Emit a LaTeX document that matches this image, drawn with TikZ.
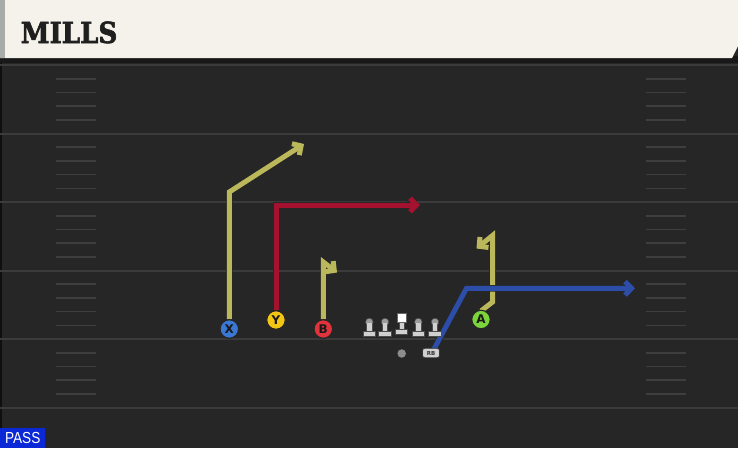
\documentclass[tikz,border=0pt]{standalone}
\usepackage{fontspec}
\setmainfont{DejaVu Sans}
\newfontfamily\titlefont[FakeBold=2.2]{DejaVu Serif Bold}
\newfontfamily\passfont{Liberation Sans}
\usetikzlibrary{arrows.meta}
\definecolor{field}{HTML}{262626}
\definecolor{darkbar}{HTML}{181818}
\definecolor{cream}{HTML}{F5F2EB}
\definecolor{stripe}{HTML}{A9ABA8}
\definecolor{yardc}{HTML}{3B3B3B}
\definecolor{hashc}{HTML}{3E3E3E}
\definecolor{olive}{HTML}{BAB85A}
\definecolor{crimson}{HTML}{A51230}
\definecolor{rblue}{HTML}{2C4EA8}
\definecolor{xblue}{HTML}{3A78D6}
\definecolor{yyellow}{HTML}{F3C614}
\definecolor{bred}{HTML}{E0333B}
\definecolor{agreen}{HTML}{7CD33A}
\definecolor{lmgrey}{HTML}{D0D0D0}
\definecolor{passblue}{HTML}{0A28D6}
\begin{document}
\begin{tikzpicture}[x=1pt,y=-1pt,
  yard/.style={draw=yardc,line width=2pt},
  hash/.style={draw=hashc,line width=1.6pt},
  route/.style={line width=5pt,
    preaction={draw=black!85,line width=6.6pt},
    -{Straight Barb[length=6.5pt,width=13.5pt]}},
  player/.style={circle,minimum size=18.5pt,inner sep=0pt,draw=black!85,line width=1.1pt,
    text=black!90,font=\bfseries\fontsize{12}{12}\selectfont},
  lineman/.pic={
    \fill[lmgrey,draw=black!70,line width=0.5pt] (-6.4,-2.5) rectangle (6.4,2.3);
    \fill[lmgrey,draw=black!70,line width=0.5pt] (-2.7,-11.5) rectangle (2.7,-2.5);
    \fill[lmgrey!75!black,draw=black!70,line width=0.5pt] (0,-12) circle (3.8);
    \fill[lmgrey] (-2.2,-11.5) rectangle (2.2,-2.7);},
  centerman/.pic={
    \fill[lmgrey,draw=black!70,line width=0.5pt] (-6,-2.3) rectangle (6,2.3);
    \fill[lmgrey,draw=black!70,line width=0.5pt] (-2.7,-10) rectangle (2.7,-2.3);
    \fill[white,draw=black!60,line width=0.5pt] (-4.6,-18) rectangle (4.6,-9.6);}
]
\useasboundingbox (0,0) rectangle (738,448);
% field
\fill[field] (0,0) rectangle (738,448);
\fill[darkbar] (0,56) rectangle (738,63);
\draw[draw=black!60!field,line width=1.5pt] (1,63) -- (1,448);
\foreach \y in {65,133.5,202,270.5,339,408} \draw[yard] (0,\y) -- (738,\y);
\foreach \k in {0,...,4}
  \foreach \o in {13.7,27.4,41.1,54.8} {
    \draw[hash] (56,65+68.5*\k+\o) -- (96,65+68.5*\k+\o);
    \draw[hash] (646,65+68.5*\k+\o) -- (686,65+68.5*\k+\o);
  }
% header
\fill[cream] (0,0) -- (738,0) -- (738,46) -- (732,58) -- (0,58) -- cycle;
\fill[stripe] (0,0) rectangle (5,58);
\node[anchor=base west,inner sep=0pt,text=black!88] (title) at (20.5,43)
  {\titlefont\fontsize{29}{29}\selectfont\scalebox{0.9}[1]{MILLS}};
% players
\node[player,fill=xblue] (X) at (229.3,329) {X};
\node[player,fill=yyellow] (Y) at (276,320) {Y};
\node[player,fill=bred] (B) at (323.3,329) {B};
\node[player,fill=agreen] (A) at (481,319.5) {A};
\node[circle,fill=black!45,minimum size=8.5pt,inner sep=0pt] (QB) at (401.7,353.5) {};
\node[rounded corners=2.5pt,fill=lmgrey,draw=black!80,line width=0.7pt,minimum width=17pt,
  minimum height=9.5pt,inner sep=0pt,text=black!80,font=\bfseries\fontsize{5.5}{5.5}\selectfont] (RB) at (431,353) {RB};
% route points
\coordinate (x1) at (229.3,192);
\coordinate (x2) at (304,144);
\coordinate (y1) at (276,205);
\coordinate (y2) at (420,205);
\coordinate (b1) at (323.3,262);
\coordinate (b2) at (337,272.5);
\coordinate (a0) at (481,311);
\coordinate (a1) at (492.5,302);
\coordinate (a2) at (492.5,235.5);
\coordinate (a3) at (476.5,248.5);
\coordinate (r0) at (434,349);
\coordinate (r1) at (466.5,288.3);
\coordinate (r2) at (635,288.3);
% routes
\draw[route,olive] (X.north) -- (x1) -- (x2);
\draw[route,crimson] (Y.north) -- (y1) -- (y2);
\draw[route,olive] (B.north) -- (b1) -- (b2);
\draw[route,olive] (a0) -- (a1) -- (a2) -- (a3);
\draw[route,rblue] (r0) -- (r1) -- (r2);
% redraw players on top
\node[player,fill=xblue] at (X) {X};
\node[player,fill=yyellow] at (Y) {Y};
\node[player,fill=bred] at (B) {B};
\node[player,fill=agreen] at (A) {A};
\node[rounded corners=2.5pt,fill=lmgrey,draw=black!80,line width=0.7pt,minimum width=17pt,
  minimum height=9.5pt,inner sep=0pt,text=black!80,font=\bfseries\fontsize{5.5}{5.5}\selectfont] at (RB) {RB};
% line
\pic at (369.3,334) {lineman};
\pic at (385,334) {lineman};
\pic at (401.7,331.5) {centerman};
\pic at (418.3,334) {lineman};
\pic at (435,334) {lineman};
% pass tag
\node[fill=passblue,anchor=south west,minimum width=45pt,minimum height=20pt,inner sep=0pt,
  text=white] (pass) at (0,448) {\passfont\fontsize{16}{16}\selectfont\scalebox{0.85}[1]{PASS}};
\end{tikzpicture}
\end{document}
